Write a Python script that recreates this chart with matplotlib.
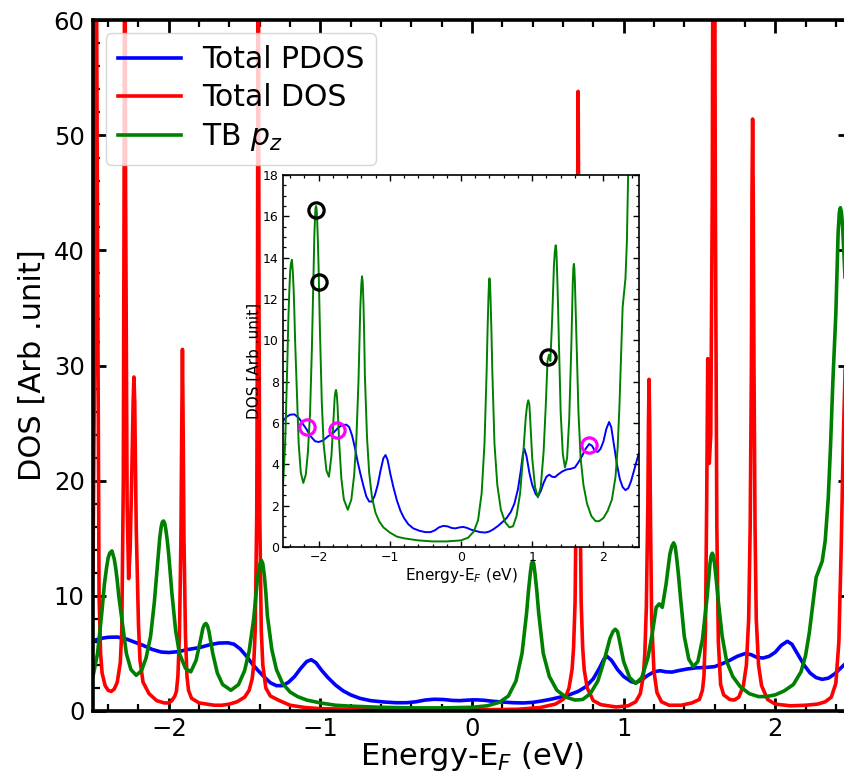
import matplotlib
matplotlib.use("Agg")
import matplotlib.pyplot as plt
from matplotlib.ticker import MultipleLocator

# ---------------- data ----------------
blue_x = [-2.50, -2.45, -2.40, -2.34, -2.28, -2.22, -2.17, -2.11, -2.05, -2.00,
          -1.94, -1.87, -1.80, -1.73, -1.67, -1.61, -1.57, -1.53, -1.49, -1.45,
          -1.41, -1.37, -1.33, -1.29, -1.25, -1.21, -1.17, -1.13, -1.09, -1.06,
          -1.03, -0.99, -0.95, -0.90, -0.85, -0.80, -0.74, -0.67, -0.58, -0.50,
          -0.43, -0.37, -0.31, -0.25, -0.19, -0.13, -0.08, -0.02, 0.03, 0.08,
          0.14, 0.20, 0.27, 0.34, 0.40, 0.46, 0.52, 0.58, 0.64, 0.70,
          0.75, 0.80, 0.84, 0.87, 0.89, 0.92, 0.96, 1.00, 1.05, 1.08,
          1.12, 1.16, 1.20, 1.24, 1.28, 1.32, 1.36, 1.42, 1.48, 1.54,
          1.60, 1.65, 1.70, 1.75, 1.80, 1.84, 1.88, 1.92, 1.96, 2.00,
          2.04, 2.08, 2.11, 2.15, 2.19, 2.23, 2.27, 2.31, 2.35, 2.39,
          2.43, 2.47, 2.50]
blue_y = [6.10, 6.30, 6.40, 6.42, 6.25, 5.95, 5.70, 5.35, 5.12, 5.08,
          5.15, 5.35, 5.50, 5.75, 5.90, 5.92, 5.80, 5.40, 4.80, 4.10,
          3.50, 2.95, 2.45, 2.20, 2.20, 2.50, 3.00, 3.70, 4.30, 4.45,
          4.20, 3.50, 2.90, 2.25, 1.75, 1.40, 1.10, 0.90, 0.78, 0.72,
          0.72, 0.80, 0.95, 1.02, 1.00, 0.92, 0.90, 0.95, 0.97, 0.93,
          0.84, 0.78, 0.72, 0.70, 0.75, 0.87, 1.02, 1.20, 1.40, 1.70,
          2.10, 2.80, 3.70, 4.50, 4.75, 4.40, 3.60, 3.00, 2.55, 2.45,
          2.70, 3.10, 3.40, 3.50, 3.40, 3.38, 3.50, 3.65, 3.75, 3.78,
          3.85, 4.10, 4.40, 4.75, 4.98, 4.90, 4.65, 4.60, 4.75, 5.10,
          5.70, 6.05, 5.80, 4.90, 4.00, 3.30, 2.90, 2.75, 2.85, 3.20,
          3.70, 4.20, 4.55]

red_x = [-2.50, -2.49, -2.48, -2.47, -2.46, -2.45, -2.44, -2.42, -2.40, -2.38,
         -2.36, -2.34, -2.32, -2.31, -2.30, -2.295, -2.29, -2.285, -2.275, -2.265,
         -2.255, -2.245, -2.235, -2.23, -2.225, -2.215, -2.20, -2.19, -2.17, -2.13,
         -2.08, -2.03, -2.00, -1.98, -1.96, -1.95, -1.94, -1.93, -1.92, -1.915,
         -1.91, -1.905, -1.90, -1.89, -1.88, -1.87, -1.85, -1.80, -1.70, -1.65,
         -1.60, -1.55, -1.50, -1.47, -1.45, -1.44, -1.43, -1.42, -1.415, -1.41,
         -1.405, -1.40, -1.39, -1.38, -1.36, -1.33, -1.27, -1.20, -1.10, -1.00,
         -0.50, 0.00, 0.30, 0.45, 0.55, 0.60, 0.62, 0.64, 0.66, 0.67,
         0.68, 0.69, 0.695, 0.70, 0.705, 0.71, 0.72, 0.73, 0.74, 0.76,
         0.80, 0.85, 0.95, 1.03, 1.08, 1.11, 1.13, 1.14, 1.15, 1.16,
         1.164, 1.168, 1.172, 1.178, 1.185, 1.20, 1.22, 1.25, 1.30, 1.38,
         1.45, 1.50, 1.52, 1.53, 1.54, 1.548, 1.555, 1.565, 1.575, 1.585,
         1.595, 1.605, 1.615, 1.625, 1.64, 1.66, 1.70, 1.73, 1.76, 1.79,
         1.81, 1.825, 1.835, 1.843, 1.847, 1.851, 1.855, 1.86, 1.867, 1.875,
         1.89, 1.91, 1.95, 2.00, 2.10, 2.20, 2.28, 2.33, 2.37, 2.40,
         2.42, 2.435, 2.45, 2.46, 2.475, 2.49, 2.50]
red_y = [12.0, 30.0, 75.0, 40.0, 10.0, 5.0, 3.3, 2.2, 1.8, 1.7,
         1.9, 2.5, 4.2, 7.0, 20.0, 45.0, 80.0, 45.0, 18.0, 11.5,
         14.0, 20.0, 27.0, 29.0, 27.0, 16.0, 7.5, 4.4, 2.5, 1.5,
         0.9, 0.7, 0.7, 0.9, 1.3, 1.7, 3.0, 6.5, 15.0, 24.0,
         31.4, 24.0, 15.0, 6.5, 3.0, 1.8, 1.1, 0.7, 0.5, 0.5,
         0.6, 0.8, 1.2, 1.8, 2.8, 4.0, 7.0, 17.0, 35.0, 80.0,
         35.0, 17.0, 7.0, 4.0, 2.0, 1.3, 0.9, 0.5, 0.3, 0.2,
         0.1, 0.1, 0.15, 0.3, 0.6, 1.0, 1.3, 2.0, 3.6, 5.5,
         9.5, 22.0, 40.0, 53.8, 40.0, 22.0, 9.5, 5.5, 3.6, 2.0,
         0.9, 0.55, 0.35, 0.45, 0.8, 1.5, 3.0, 5.0, 9.0, 18.0,
         25.0, 28.8, 25.0, 16.0, 8.0, 3.5, 1.6, 0.8, 0.5, 0.5,
         0.7, 1.0, 1.8, 3.0, 7.0, 18.0, 30.6, 21.5, 24.0, 45.0,
         100.0, 45.0, 16.0, 6.0, 2.3, 1.4, 1.0, 0.95, 1.2, 2.2,
         4.0, 8.0, 16.0, 30.0, 45.0, 51.4, 45.0, 30.0, 16.0, 8.0,
         4.0, 2.2, 1.0, 0.6, 0.45, 0.5, 0.6, 0.8, 1.2, 2.4,
         6.0, 14.0, 24.0, 29.0, 50.0, 80.0, 60.0]

green_x = [-2.50, -2.47, -2.44, -2.425, -2.41, -2.40, -2.39, -2.375, -2.36, -2.35,
           -2.34, -2.33, -2.315, -2.28, -2.25, -2.215, -2.18, -2.15, -2.12, -2.095,
           -2.07, -2.06, -2.05, -2.043, -2.035, -2.027, -2.02, -2.01, -2.00, -1.98,
           -1.955, -1.93, -1.89, -1.855, -1.82, -1.795, -1.775, -1.765, -1.755, -1.745,
           -1.735, -1.71, -1.68, -1.645, -1.59, -1.54, -1.50, -1.47, -1.44, -1.415,
           -1.40, -1.39, -1.38, -1.37, -1.36, -1.35, -1.32, -1.29, -1.25, -1.20,
           -1.15, -1.09, -1.00, -0.90, -0.80, -0.60, -0.40, -0.20, 0.00, 0.10,
           0.18, 0.24, 0.29, 0.33, 0.36, 0.373, 0.385, 0.393, 0.40, 0.407,
           0.415, 0.427, 0.44, 0.47, 0.51, 0.56, 0.62, 0.68, 0.73, 0.78,
           0.83, 0.87, 0.91, 0.93, 0.945, 0.96, 0.97, 1.00, 1.04, 1.08,
           1.12, 1.16, 1.19, 1.215, 1.235, 1.255, 1.28, 1.305, 1.318, 1.33,
           1.34, 1.35, 1.362, 1.375, 1.40, 1.43, 1.46, 1.49, 1.52, 1.55,
           1.57, 1.578, 1.585, 1.592, 1.60, 1.612, 1.625, 1.65, 1.68, 1.72,
           1.77, 1.83, 1.89, 1.94, 2.00, 2.06, 2.12, 2.17, 2.20, 2.225,
           2.25, 2.27, 2.29, 2.31, 2.33, 2.35, 2.365, 2.38, 2.40, 2.415,
           2.423, 2.43, 2.437, 2.445, 2.47, 2.50]
green_y = [3.0, 5.0, 8.8, 11.0, 12.5, 13.3, 13.7, 13.9, 13.2, 12.4,
           11.3, 10.0, 8.5, 5.0, 3.6, 3.1, 3.5, 4.6, 6.5, 9.5,
           13.5, 15.0, 16.0, 16.4, 16.5, 16.3, 15.8, 14.8, 13.5, 10.3,
           7.0, 5.0, 3.7, 3.4, 4.4, 5.9, 7.2, 7.5, 7.6, 7.4,
           6.9, 5.0, 3.3, 2.3, 1.8, 2.3, 3.5, 5.2, 8.0, 11.5,
           12.7, 13.1, 12.8, 11.8, 10.3, 8.3, 5.3, 3.6, 2.4, 1.65,
           1.25, 0.95, 0.7, 0.5, 0.42, 0.32, 0.27, 0.27, 0.32, 0.45,
           0.75, 1.3, 2.6, 5.0, 8.5, 10.5, 12.0, 12.8, 13.0, 12.8,
           12.0, 10.5, 8.5, 5.0, 3.0, 1.8, 1.2, 0.95, 1.0, 1.5,
           2.6, 4.3, 6.3, 6.9, 7.1, 6.9, 6.3, 4.3, 2.9, 2.4,
           2.9, 4.6, 6.8, 9.0, 9.3, 9.0, 11.0, 13.6, 14.3, 14.6,
           14.3, 13.3, 11.8, 9.9, 6.5, 4.5, 3.85, 4.3, 6.2, 9.8,
           12.8, 13.5, 13.7, 13.5, 12.8, 11.3, 9.5, 6.5, 4.3, 3.0,
           2.1, 1.5, 1.25, 1.25, 1.4, 1.75, 2.3, 3.4, 4.8, 6.8,
           9.5, 11.6, 12.3, 13.0, 14.8, 18.5, 23.0, 28.5, 34.5, 41.5,
           43.3, 43.7, 43.3, 42.0, 35.0, 28.0]

black_mark_x = [-2.03, -1.995, 1.216]
black_mark_y = [16.33, 12.84, 9.21]
magenta_mark_x = [-2.164, -1.742, 1.803]
magenta_mark_y = [5.82, 5.66, 4.93]

xticks = [-2, -1, 0, 1, 2]
yticks_main = [0, 10, 20, 30, 40, 50, 60]
yticks_inset = [0, 2, 4, 6, 8, 10, 12, 14, 16, 18]

# ---------------- figure ----------------
W, H = 845, 776
fig = plt.figure(figsize=(W / 100, H / 100), dpi=100)

ax = fig.add_axes([93 / W, (H - 711) / H, (851 - 93) / W, (711 - 20) / H])
ax.plot(blue_x, blue_y, color='blue', lw=2.6, label='Total PDOS')
ax.plot(red_x, red_y, color='red', lw=2.6, label='Total DOS')
ax.plot(green_x, green_y, color='green', lw=2.6, label='TB $p_z$')
ax.set_xlim(-2.5, 2.5)
ax.set_ylim(0, 60)
ax.set_xticks(xticks)
ax.set_yticks(yticks_main)
ax.xaxis.set_minor_locator(MultipleLocator(0.2))
ax.yaxis.set_minor_locator(MultipleLocator(2))
ax.tick_params(which='both', direction='in', top=True, right=True)
ax.tick_params(which='major', length=9.5, width=2.0, labelsize=17.5, pad=6)
ax.tick_params(axis='x', which='major', pad=4.5)
ax.tick_params(which='minor', length=5, width=1.6)
for s in ax.spines.values():
    s.set_linewidth(2.6)
ax.set_xlabel('Energy-E$_F$ (eV)', fontsize=22, labelpad=-1)
ax.set_ylabel('DOS [Arb .unit]', fontsize=22, labelpad=5)
leg = ax.legend(loc='upper left', fontsize=21.5, handlelength=2.1,
                handletextpad=0.7, borderaxespad=0.45, labelspacing=0.3)

# ---------------- inset ----------------
axi = fig.add_axes([283 / W, (H - 547) / H, (639 - 283) / W, (547 - 175) / H])
axi.plot(blue_x, blue_y, color='blue', lw=1.4)
axi.plot(green_x, green_y, color='green', lw=1.4)
axi.plot(black_mark_x, black_mark_y, 'o', mfc='none', mec='black', ms=11, mew=2.3)
axi.plot(magenta_mark_x, magenta_mark_y, 'o', mfc='none', mec='magenta', ms=11, mew=2.3)
axi.set_xlim(-2.5, 2.5)
axi.set_ylim(0, 18)
axi.set_xticks(xticks)
axi.set_yticks(yticks_inset)
axi.xaxis.set_minor_locator(MultipleLocator(0.2))
axi.yaxis.set_minor_locator(MultipleLocator(0.5))
axi.tick_params(which='both', direction='in', top=True, right=True)
axi.tick_params(which='major', length=4.5, width=1.0, labelsize=9, pad=3)
axi.tick_params(which='minor', length=2.5, width=0.9)
for s in axi.spines.values():
    s.set_linewidth(1.2)
axi.set_xlabel('Energy-E$_F$ (eV)', fontsize=11, labelpad=1)
axi.set_ylabel('DOS [Arb .unit]', fontsize=11, labelpad=1)

fig.savefig('out.png', dpi=100)
